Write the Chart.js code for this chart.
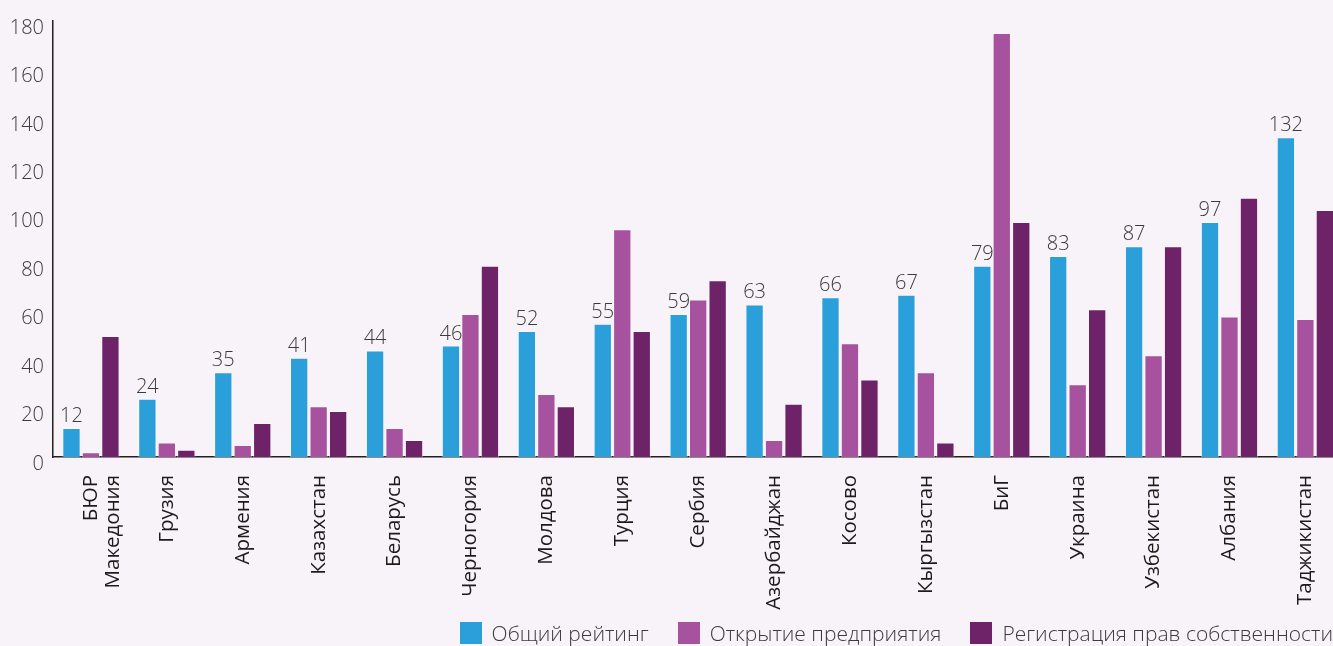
<!DOCTYPE html>
<html>
<head>
<meta charset="utf-8">
<script src="https://cdn.jsdelivr.net/npm/chart.js@4"></script>
<style>
  html, body { margin: 0; padding: 0; background: #f7f3f8; overflow: hidden; }
  #wrap { position: relative; width: 1333px; height: 646px; overflow: hidden; }
  #legend {
    position: absolute; right: 0; top: 622px; height: 22px;
    display: flex; align-items: center;
    font-family: 'Open Sans', sans-serif; font-weight: 300; font-size: 21px; color: #3b3b3b;
    white-space: nowrap;
  }
  #legend .item { display: flex; align-items: center; margin-left: 29px; }
  #legend .box { width: 22px; height: 22px; margin-right: 10px; }
</style>
</head>
<body>
<div id="wrap">
  <canvas id="chart" width="1346" height="646"></canvas>
  <div id="legend"></div>
</div>
<script>
// страны (категории)
const countries = [
  ['БЮР', 'Македония'], 'Грузия', 'Армения', 'Казахстан', 'Беларусь', 'Черногория',
  'Молдова', 'Турция', 'Сербия', 'Азербайджан', 'Косово', 'Кыргызстан', 'БиГ',
  'Украина', 'Узбекистан', 'Албания', 'Таджикистан'
];
const seriesNames = ['Общий рейтинг', 'Открытие предприятия', 'Регистрация прав собственности'];
const seriesColors = ['#2b9fda', '#a6529e', '#6e2369'];

const overall  = [12, 24, 35, 41, 44, 46, 52, 55, 59, 63, 66, 67, 79, 83, 87, 97, 132];
const business = [2, 6, 5, 21, 12, 59, 26, 94, 65, 7, 47, 35, 175, 30, 42, 58, 57];
const property = [50, 3, 14, 19, 7, 79, 21, 52, 73, 22, 32, 6, 97, 61, 87, 107, 102];

const yTicks = [0, 20, 40, 60, 80, 100, 120, 140, 160, 180];

const lightFont = { family: "'Open Sans', sans-serif", size: 20, weight: '300' };

// подписи над синими столбцами
const valueLabels = {
  id: 'valueLabels',
  afterDatasetsDraw(chart) {
    const ctx = chart.ctx;
    const meta = chart.getDatasetMeta(0);
    ctx.save();
    ctx.font = "300 20px 'Open Sans', sans-serif";
    ctx.fillStyle = '#3b3b3b';
    ctx.textAlign = 'center';
    ctx.textBaseline = 'alphabetic';
    meta.data.forEach((bar, i) => {
      ctx.fillText(String(overall[i]), bar.x, bar.y - 6);
    });
    ctx.restore();
  }
};

const datasets = [overall, business, property].map((d, i) => ({
  label: seriesNames[i],
  data: d,
  backgroundColor: seriesColors[i],
  borderColor: 'rgba(255,255,255,0.45)',
  borderWidth: 1,
  categoryPercentage: 0.77,
  barPercentage: 0.94
}));

new Chart(document.getElementById('chart'), {
  type: 'bar',
  data: { labels: countries, datasets: datasets },
  options: {
    responsive: false,
    animation: false,
    layout: { padding: { top: 19, left: 0, right: 2, bottom: 0 } },
    plugins: { legend: { display: false }, tooltip: { enabled: false } },
    scales: {
      x: {
        grid: { display: false, drawTicks: false },
        border: { display: true, color: '#231f20', width: 1.5 },
        ticks: {
          minRotation: 90, maxRotation: 90, padding: 18, autoSkip: false,
          color: '#1e1a1b',
          font: { family: "'Open Sans', sans-serif", size: 20.5, lineHeight: 1.1 }
        },
        afterFit(scale) { scale.height = 189; }
      },
      y: {
        min: 0, max: 180,
        grid: { display: false, drawTicks: false },
        border: { display: true, color: '#231f20', width: 1.5 },
        afterBuildTicks(scale) { scale.ticks = yTicks.map(v => ({ value: v })); },
        ticks: { padding: 9, labelOffset: 7, color: '#3b3b3b', font: lightFont },
        afterFit(scale) { scale.width = 53; }
      }
    }
  },
  plugins: [valueLabels]
});

// легенда
const legend = document.getElementById('legend');
seriesNames.forEach((name, i) => {
  const item = document.createElement('div');
  item.className = 'item';
  const box = document.createElement('div');
  box.className = 'box';
  box.style.background = seriesColors[i];
  const txt = document.createElement('span');
  txt.textContent = name;
  item.appendChild(box);
  item.appendChild(txt);
  legend.appendChild(item);
});
</script>
</body>
</html>
